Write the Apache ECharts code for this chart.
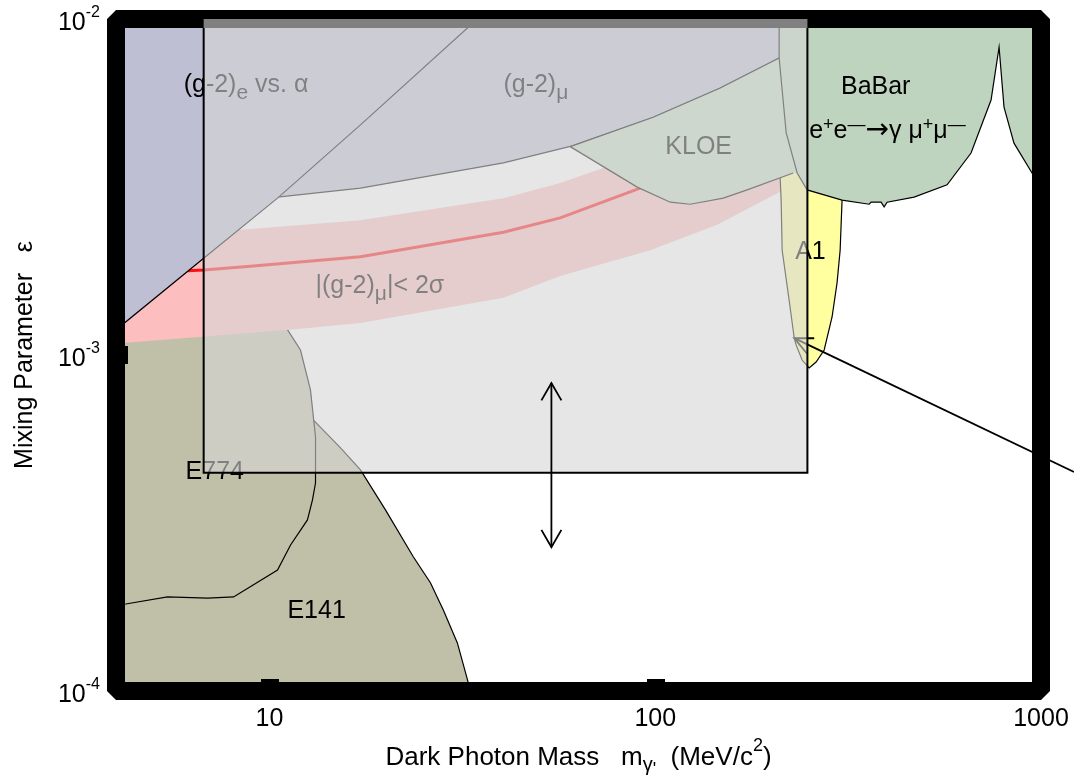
<!DOCTYPE html>
<html><head><meta charset="utf-8">
<script src="https://cdn.jsdelivr.net/npm/echarts@6/dist/echarts.min.js"></script>
<style>html,body{margin:0;padding:0;background:#fff}#c{width:1074px;height:778px}</style>
</head><body><div id="c"></div>
<script>
const FONT = '"Liberation Sans", Arial, Helvetica, sans-serif';

// ---- axes ----
const massRange = [4, 1000];          // MeV
const epsRange = [1e-4, 1e-2];
const massTicks = [10, 100, 1000];
const epsTicks = [1e-4, 1e-3, 1e-2];

// ---- exclusion regions: [mass (MeV), epsilon] ----
const e141 = [[13.0,6.4e-4],[15.28,5.29e-4],[17.21,4.55e-4],[19.98,3.46e-4],[23.61,2.505e-4],[26.13,2.10e-4],[28.24,1.74e-4],[30.69,1.39e-4],[32.78,1.056e-4],[33.4,9.5e-5],[3.9,9.5e-5],[3.9,3.0e-4],[11.0,5.0e-4]];
const e774 = [[11.13,1.19e-3],[12.03,1.035e-3],[12.77,7.87e-4],[13.16,5.70e-4],[13.16,4.16e-4],[12.92,3.70e-4],[12.54,3.23e-4],[11.34,2.72e-4],[10.49,2.29e-4],[9.09,2.07e-4],[8.07,1.905e-4],[6.91,1.89e-4],[5.44,1.905e-4],[4.24,1.815e-4],[3.9,1.80e-4],[3.9,1.12e-3]];
const gm2Band = [[3.9,2.0e-3],[6.75,2.31e-3],[17.21,2.52e-3],[40.4,2.93e-3],[56.7,3.25e-3],[73.3,3.60e-3],[97,3.94e-3],[147,4.36e-3],[214,4.68e-3],[214,3.0e-3],[210.8,3.06e-3],[144.7,2.44e-3],[97.0,2.05e-3],[56.7,1.717e-3],[40.4,1.48e-3],[17.21,1.245e-3],[11.13,1.187e-3],[3.9,1.08e-3]];
const gm2Central = [[6.13,1.78e-3],[6.75,1.79e-3],[9.09,1.84e-3],[17.21,1.96e-3],[40.4,2.32e-3],[56.7,2.56e-3],[91.4,3.14e-3]];
const gm2Mu = [[3.9,2.70e-3],[6.75,2.83e-3],[10.49,2.95e-3],[17.21,3.14e-3],[40.4,3.73e-3],[60.95,4.19e-3],[98.8,5.1e-3],[147.4,6.23e-3],[209.5,7.65e-3],[260,9.5e-3],[300,0.0105],[3.9,0.0105]];
const gm2E = [[3.9,1.16e-3],[6.75,1.94e-3],[10.49,2.93e-3],[17.21,4.84e-3],[34.58,0.01],[36,0.0105],[3.9,0.0105]];
const a1 = [[210,4.07e-3],[305,4.07e-3],[305,2.89e-3],[301.5,2.05e-3],[296,1.64e-3],[287.4,1.30e-3],[274.1,1.035e-3],[261.2,9.53e-4],[250.6,9.15e-4],[240.3,9.66e-4],[231.9,1.07e-3],[229.2,1.125e-3],[222.3,1.46e-3],[213.3,2.05e-3],[212,2.89e-3],[210.8,3.36e-3]];
const kloe = [[60.2,4.17e-3],[98.8,5.1e-3],[147.4,6.23e-3],[209.5,7.65e-3],[213.3,6.15e-3],[218.5,4.58e-3],[233.3,3.48e-3],[227.8,3.48e-3],[173.1,3.10e-3],[150.1,2.93e-3],[123.2,2.81e-3],[109.4,2.85e-3],[89.8,3.16e-3]];
const babar = [[209.5,0.0105],[209.5,7.65e-3],[213.3,6.15e-3],[218.5,4.58e-3],[233.3,3.48e-3],[247.6,3.10e-3],[305,2.89e-3],[358.5,2.81e-3],[362.8,2.85e-3],[385,2.85e-3],[392,2.76e-3],[399,2.85e-3],[468.8,2.95e-3],[570.9,3.21e-3],[658.6,3.99e-3],[742.2,5.74e-3],[778.6,8.25e-3],[801.9,5.47e-3],[851.1,4.27e-3],[948,3.48e-3],[1000,3.14e-3],[1000,0.0105]];

// proposed experiment reach box and arrows
const boxMass = [6.75, 248];
const boxEps = [4.46e-4, 1e-2];
const arrowMass = 53.8;
const arrowEps = [2.68e-4, 8.25e-4];
const pointer = [[229.2, 1.123e-3], [1218, 4.485e-4]];

// text labels
const labelTexts = ['{b|(g-2)}{sub|e}{b| vs. α}', '{b|(g-2)}{sub|μ}', '{b|KLOE}', '{b|BaBar}',
  '{b|e}{sup|+}{b|e}{sup|—}{ar|→}{b|γ μ}{sup|+}{b|μ}{sup|—}', '{b|A1}', '{b||(g-2)}{sub|μ}{b||< 2σ}', '{b|E774}', '{b|E141}'];
const labelPos = [[5.99,6.34e-3],[40.4,6.36e-3],[106.2,4.15e-3],[303,6.29e-3],[250.6,4.64e-3],[230.5,2.02e-3],[13.16,1.604e-3],[6.06,4.47e-4],[11.13,1.73e-4]];

// ---- rendering ----
const rng = (a, b) => Array.from({length: b - a + 1}, (_, i) => a + i);
const ZRICH = {
  b: {fontSize: 25, fontFamily: FONT, lineHeight: 26, fill: '#000'},
  sub: {fontSize: 21, fontFamily: FONT, height: 10, lineHeight: 10, verticalAlign: 'bottom', fill: '#000'},
  sup: {fontSize: 18, fontFamily: FONT, height: 14, lineHeight: 14, verticalAlign: 'top', fill: '#000'},
  ar: {fontSize: 28, fontFamily: '"DejaVu Sans", sans-serif', height: 26, lineHeight: 26, fill: '#000'}
};

function regionSeries(pts, fill, edges, z) {
  return {
    type: 'custom', coordinateSystem: 'cartesian2d', clip: true, z: z, silent: true,
    data: [pts[0]],
    renderItem(params, api) {
      const P = pts.map(p => api.coord(p));
      const children = [{type: 'polygon', shape: {points: P}, style: {fill: fill, stroke: 'none'}}];
      edges.forEach(idx => children.push({type: 'polyline', shape: {points: idx.map(i => P[i])},
        style: {stroke: '#000', lineWidth: 1.2, fill: 'none'}}));
      return {type: 'group', children};
    }
  };
}
function head(tip, from, len, ang) {
  const dx = from[0] - tip[0], dy = from[1] - tip[1];
  const L = Math.hypot(dx, dy), ux = dx / L, uy = dy / L;
  const c = Math.cos(ang), s = Math.sin(ang);
  return [[tip[0] + len * (ux * c - uy * s), tip[1] + len * (ux * s + uy * c)], tip,
          [tip[0] + len * (ux * c + uy * s), tip[1] + len * (-ux * s + uy * c)]];
}
const isPow = (v, list) => list.some(t => Math.abs(Math.log10(v) - Math.log10(t)) < 1e-6);

const G = {left: 116, top: 19, width: 925, height: 672};
const FRAME = 18;

const series = [
  regionSeries(e141, '#c0c0a8', [rng(0, 9)], 1),
  regionSeries(e774, '#c0c0a8', [rng(0, 14)], 2),
  regionSeries(gm2Band, '#fdbec0', [], 3),
  {
    type: 'custom', coordinateSystem: 'cartesian2d', clip: true, z: 4, silent: true,
    data: [gm2Central[0]],
    renderItem(params, api) {
      return {type: 'polyline', shape: {points: gm2Central.map(p => api.coord(p))},
        style: {stroke: '#ff1010', lineWidth: 3, fill: 'none'}};
    }
  },
  regionSeries(gm2Mu, '#bfbfd4', [rng(0, 8)], 5),
  regionSeries(gm2E, '#bfbfd4', [rng(0, 5)], 6),
  regionSeries(a1, '#ffffa0', [rng(2, 15)], 7),
  regionSeries(kloe, '#c2dac2', [rng(0, 3), rng(7, 12).concat([0])], 8),
  regionSeries(babar, '#bfd4bf', [rng(0, 20)], 9),
  { // labels (under the translucent box)
    type: 'custom', coordinateSystem: 'cartesian2d', z: 9, silent: true,
    data: labelPos,
    renderItem(params, api) {
      const p = api.coord([api.value(0), api.value(1)]);
      return {type: 'text', x: p[0], y: p[1], z2: 50,
        style: {text: labelTexts[params.dataIndex], align: 'left', verticalAlign: 'middle',
          fill: '#000', fontSize: 25, fontFamily: FONT, rich: ZRICH}};
    }
  },
  { // pointer arrow to A1
    type: 'custom', coordinateSystem: 'cartesian2d', clip: false, z: 9, silent: true,
    data: [pointer[0]],
    renderItem(params, api) {
      const p0 = api.coord(pointer[0]), p1 = api.coord(pointer[1]);
      return {type: 'group', children: [
        {type: 'polyline', shape: {points: [p0, p1]}, style: {stroke: '#000', lineWidth: 1.8, fill: 'none'}},
        {type: 'polyline', shape: {points: head(p0, p1, 20, 25 * Math.PI / 180)}, style: {stroke: '#000', lineWidth: 1.8, fill: 'none'}}
      ]};
    }
  },
  { // translucent reach box
    type: 'custom', coordinateSystem: 'cartesian2d', clip: false, z: 20, silent: true,
    data: [[boxMass[0], boxEps[1]]],
    renderItem(params, api) {
      const a = api.coord([boxMass[0], boxEps[1]]), b = api.coord([boxMass[1], boxEps[0]]);
      return {type: 'rect', shape: {x: a[0], y: a[1], width: b[0] - a[0], height: b[1] - a[1]},
        style: {fill: 'rgba(213,213,213,0.6)', stroke: 'none'}};
    }
  },
  { // box outline and double arrow
    type: 'custom', coordinateSystem: 'cartesian2d', clip: false, z: 21, silent: true,
    data: [[arrowMass, arrowEps[1]]],
    renderItem(params, api) {
      const a = api.coord([boxMass[0], boxEps[1]]), b = api.coord([boxMass[1], boxEps[0]]);
      const top = params.coordSys.y + FRAME / 2;
      const t = api.coord([arrowMass, arrowEps[1]]), d = api.coord([arrowMass, arrowEps[0]]);
      const st = {stroke: '#000', lineWidth: 2, fill: 'none'};
      const sa = {stroke: '#000', lineWidth: 1.8, fill: 'none'};
      return {type: 'group', children: [
        {type: 'polyline', shape: {points: [[a[0], top], [a[0], b[1]], [b[0], b[1]], [b[0], top]]}, style: st},
        {type: 'polyline', shape: {points: [t, d]}, style: sa},
        {type: 'polyline', shape: {points: head(t, d, 20, 30 * Math.PI / 180)}, style: sa},
        {type: 'polyline', shape: {points: head(d, t, 20, 30 * Math.PI / 180)}, style: sa}
      ]};
    }
  }
];

const chart = echarts.init(document.getElementById('c'), null, {renderer: 'canvas', width: 1074, height: 778});
chart.setOption({
  animation: false,
  backgroundColor: '#fff',
  grid: Object.assign({containLabel: false, outerBoundsMode: 'none'}, G),
  graphic: [{type: 'rect', z: 10, silent: true,
    shape: {x: G.left, y: G.top, width: G.width, height: G.height},
    style: {fill: 'transparent', stroke: '#000', lineWidth: FRAME, lineJoin: 'bevel'}}],
  xAxis: {
    type: 'log', logBase: 10, min: massRange[0], max: massRange[1], z: 11,
    axisLine: {show: false}, splitLine: {show: false}, minorTick: {show: false}, minorSplitLine: {show: false},
    axisTick: {show: true, inside: true, length: 12, lineStyle: {color: '#000', width: FRAME}},
    axisLabel: {margin: 16, color: '#000', fontSize: 25, fontFamily: FONT,
      formatter: v => isPow(v, massTicks) ? String(Math.round(v)) : ''},
    name: '{b|Dark Photon Mass   m}{sub|γ}{pr|\'}{b|  (MeV/c}{sup|2}{b|)}',
    nameLocation: 'middle', nameGap: 48,
    nameTextStyle: {color: '#000', fontSize: 26, fontFamily: FONT, rich: {
      b: {fontSize: 26, fontFamily: FONT, color: '#000', lineHeight: 27},
      sub: {fontSize: 20, fontFamily: FONT, color: '#000', height: 10, lineHeight: 10, verticalAlign: 'bottom'},
      pr: {fontSize: 18, fontFamily: FONT, color: '#000', height: 2, lineHeight: 2, verticalAlign: 'bottom'},
      sup: {fontSize: 18, fontFamily: FONT, color: '#000', height: 4, lineHeight: 4, verticalAlign: 'top'}
    }}
  },
  yAxis: {
    type: 'log', logBase: 10, min: epsRange[0], max: epsRange[1], z: 11,
    axisLine: {show: false}, splitLine: {show: false}, minorTick: {show: false}, minorSplitLine: {show: false},
    axisTick: {show: true, inside: true, length: 12, lineStyle: {color: '#000', width: FRAME}},
    axisLabel: {margin: 16, color: '#000', fontSize: 25, fontFamily: FONT, padding: [8, 0, 0, 0],
      formatter: v => isPow(v, epsTicks) ? '{b|10}{sup|' + Math.round(Math.log10(v)) + '}' : '',
      rich: {
        b: {fontSize: 25, fontFamily: FONT, color: '#000', lineHeight: 26},
        sup: {fontSize: 16, fontFamily: FONT, color: '#000', height: 6, lineHeight: 6, verticalAlign: 'top'}
      }},
    name: 'Mixing Parameter   ε', nameLocation: 'middle', nameGap: 78, nameRotate: 90,
    nameTextStyle: {color: '#000', fontSize: 25, fontFamily: FONT}
  },
  series: series
});
</script></body></html>
